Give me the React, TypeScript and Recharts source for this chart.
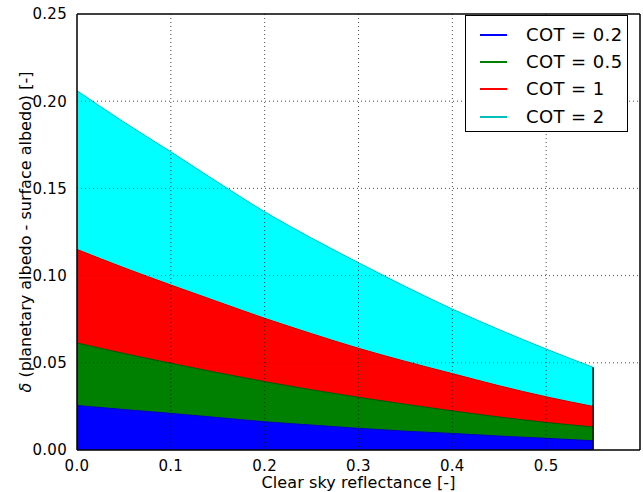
import { AreaChart, Area, XAxis, YAxis, CartesianGrid, Legend, ReferenceLine, Label } from "recharts";

/* ── Data ────────────────────────────────────────────────── */
const reflectance = [0, 0.05, 0.1, 0.15, 0.2, 0.25, 0.3, 0.35, 0.4, 0.45, 0.5, 0.55];
const cot02 = [0.0255, 0.0232, 0.021, 0.0186, 0.0162, 0.0143, 0.0124, 0.0108, 0.0095, 0.008, 0.0067, 0.0053];
const cot05 = [0.0613, 0.0553, 0.0497, 0.0443, 0.0392, 0.0345, 0.0302, 0.0262, 0.0224, 0.0189, 0.0158, 0.0132];
const cot1 = [0.115, 0.1045, 0.0946, 0.085, 0.0755, 0.0667, 0.0583, 0.0508, 0.0438, 0.0368, 0.0305, 0.025];
const cot2 = [0.206, 0.188, 0.171, 0.1535, 0.1366, 0.1215, 0.1074, 0.0937, 0.0808, 0.069, 0.0579, 0.0474];

const xTicks = [0, 0.1, 0.2, 0.3, 0.4, 0.5];
const yTicks = [0, 0.05, 0.1, 0.15, 0.2, 0.25];
const gridX = [0.1, 0.2, 0.3, 0.4, 0.5];
const gridY = [0.05, 0.1, 0.15, 0.2];

const legendLabels = ["COT = 0.2", "COT = 0.5", "COT = 1", "COT = 2"];
const legendColors = ["#0000ff", "#008000", "#ff0000", "#00bfbf"];

const data = reflectance.map((x, i) => ({
  x,
  c02: cot02[i],
  c05: cot05[i],
  c1: cot1[i],
  c2: cot2[i],
}));

const FONT = "'DejaVu Sans', sans-serif";
const tickStyle = { fontSize: 15, fill: "#000", fontFamily: FONT, letterSpacing: 0.3 };

/* ── Legend ──────────────────────────────────────────────── */
function LegendBox() {
  return (
    <div
      style={{
        border: "1px solid #000",
        background: "#fff",
        boxSizing: "border-box",
        width: 163,
        height: 117,
        padding: "5px 0 0 14px",
        fontFamily: FONT,
        fontSize: 18,
        letterSpacing: 0.4,
        color: "#000",
        whiteSpace: "nowrap",
        lineHeight: 1,
      }}
    >
      {legendLabels.map((label, i) => (
        <div key={label} style={{ display: "flex", alignItems: "center", height: 27.3 }}>
          <div style={{ width: 27, height: 2, flex: "none", background: legendColors[i], marginRight: 19 }} />
          <span style={{ whiteSpace: "nowrap" }}>{label}</span>
        </div>
      ))}
    </div>
  );
}

function YLabel() {
  return (
    <text
      x={25}
      y={232}
      transform="rotate(-90, 25, 232)"
      textAnchor="middle"
      dominantBaseline="central"
      fontSize={16}
      fontFamily={FONT}
      fill="#000"
    >
      <tspan fontStyle="italic">δ</tspan> (planetary albedo - surface albedo) [-]
    </text>
  );
}

/* ── Component ───────────────────────────────────────────── */
export default function App() {
  const last = data.length - 1;
  return (
    <div style={{ position: "absolute", left: 0, top: 0, background: "#fff" }}>
      <AreaChart width={643} height={492} data={data} margin={{ top: 14, right: 3, bottom: 0, left: 0 }}>
        <XAxis
          dataKey="x"
          type="number"
          domain={[0, 0.6]}
          ticks={xTicks}
          tickFormatter={(v: number) => v.toFixed(1)}
          tick={tickStyle}
          tickLine={false}
          axisLine={false}
          tickMargin={4}
          height={42}
          allowDataOverflow
        >
          <Label
            value="Clear sky reflectance [-]"
            position="insideBottom"
            offset={4}
            style={{ fontSize: 16, fill: "#000", fontFamily: FONT, letterSpacing: 0.1 }}
          />
        </XAxis>
        <YAxis
          type="number"
          domain={[0, 0.25]}
          ticks={yTicks}
          tickFormatter={(v: number) => v.toFixed(2)}
          tick={tickStyle}
          tickLine={false}
          axisLine={false}
          tickMargin={4}
          width={77}
          allowDataOverflow
        >
          <Label content={<YLabel />} />
        </YAxis>
        <Area type="monotone" dataKey="c2" stroke="#00bfbf" strokeWidth={1} fill="#00ffff" fillOpacity={1} isAnimationActive={false} dot={false} activeDot={false} />
        <Area type="monotone" dataKey="c1" stroke="#c00000" strokeWidth={1} fill="#ff0000" fillOpacity={1} isAnimationActive={false} dot={false} activeDot={false} />
        <Area type="monotone" dataKey="c05" stroke="#005a00" strokeWidth={1} fill="#008000" fillOpacity={1} isAnimationActive={false} dot={false} activeDot={false} />
        <Area type="monotone" dataKey="c02" stroke="#0000c0" strokeWidth={1} fill="#0000ff" fillOpacity={1} isAnimationActive={false} dot={false} activeDot={false} />
        <ReferenceLine
          segment={[
            { x: reflectance[last], y: 0 },
            { x: reflectance[last], y: cot2[last] },
          ]}
          stroke="#000"
          strokeWidth={1.5}
        />
        <CartesianGrid
          horizontalValues={gridY}
          verticalValues={gridX}
          stroke="#000"
          strokeOpacity={0.7}
          strokeDasharray="1 3"
          fill="none"
          zIndex={500}
        />
        {/* plot frame */}
        <ReferenceLine x={0} stroke="#000" strokeWidth={1.5} zIndex={600} />
        <ReferenceLine x={0.6} stroke="#000" strokeWidth={1.5} zIndex={600} />
        <ReferenceLine y={0} stroke="#000" strokeWidth={1.5} zIndex={600} />
        <ReferenceLine y={0.25} stroke="#000" strokeWidth={1.5} zIndex={600} />
        <Legend
          layout="vertical"
          align="center"
          verticalAlign="middle"
          content={<LegendBox />}
          wrapperStyle={{ top: 15, left: 465, width: 163, height: 117 }}
        />
      </AreaChart>
    </div>
  );
}
